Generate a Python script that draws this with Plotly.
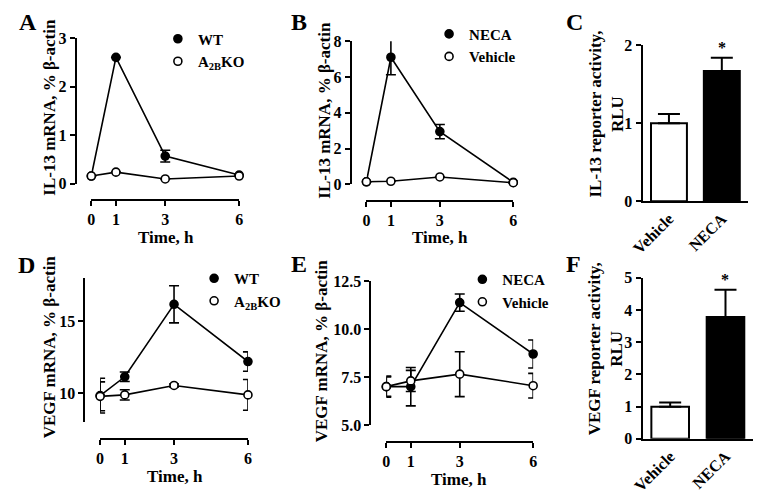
import plotly.graph_objects as go

W, H = 764, 500

# ---- data ----
time_h = [0, 1, 3, 6]

# A: IL-13 mRNA, WT vs A2BKO
a_wt = [0.16, 2.6, 0.57, 0.18]
a_wt_err = [0, 0, 0.12, 0]
a_ko = [0.16, 0.24, 0.1, 0.16]
a_ko_err = [0, 0, 0, 0]

# B: IL-13 mRNA, NECA vs Vehicle
b_neca = [0.15, 7.1, 2.95, 0.12]
b_neca_err = [0, 0.98, 0.4, 0]
b_veh = [0.15, 0.18, 0.42, 0.1]
b_veh_err = [0, 0, 0, 0]

# C: IL-13 reporter activity
bar_groups = ["Vehicle", "NECA"]
c_vals = [1.0, 1.67]
c_err = [0.12, 0.17]

# D: VEGF mRNA, WT vs A2BKO
d_wt = [9.85, 11.15, 16.15, 12.2]
d_wt_err = [1.2, 0.33, 1.28, 0.67]
d_ko = [9.8, 9.9, 10.55, 9.9]
d_ko_err = [1.0, 0.35, 0.1, 1.06]

# E: VEGF mRNA, NECA vs Vehicle
e_neca = [7.0, 7.0, 11.38, 8.7]
e_neca_err = [0.55, 1.0, 0.45, 0.73]
e_veh = [7.0, 7.3, 7.65, 7.05]
e_veh_err = [0.5, 0.55, 1.17, 0.64]

# F: VEGF reporter activity
f_vals = [1.0, 3.78]
f_err = [0.13, 0.85]

FONT = "Liberation Serif, Times New Roman, serif"


def fx(p):
    return p / W


def fy(p):
    return 1 - p / H


def line_trace(y, err, filled, xa, ya):
    return go.Scatter(
        x=time_h, y=y, xaxis=xa, yaxis=ya, mode="lines+markers",
        line=dict(color="black", width=1.6),
        marker=dict(symbol="circle", size=8, color="black" if filled else "white",
                    line=dict(color="black", width=1.6)),
        error_y=dict(type="data", array=err, color="black", thickness=1.6, width=5),
        showlegend=False, cliponaxis=False)


def legend_trace(name, filled, legend, xa, ya):
    return go.Scatter(
        x=[None], y=[None], xaxis=xa, yaxis=ya, mode="markers", name=name, legend=legend,
        marker=dict(symbol="circle", size=8, color="black" if filled else "white",
                    line=dict(color="black", width=1.6)))


def bar_trace(vals, err, xa, ya):
    return go.Bar(
        x=bar_groups, y=vals, xaxis=xa, yaxis=ya, width=0.68,
        marker=dict(color=["white", "black"], line=dict(color="black", width=2)),
        error_y=dict(type="data", array=err, arrayminus=[0, 0], symmetric=False,
                     color="black", thickness=2, width=11),
        showlegend=False)


fig = go.Figure()
fig.add_trace(line_trace(a_wt, a_wt_err, True, "x", "y"))
fig.add_trace(line_trace(a_ko, a_ko_err, False, "x", "y"))
fig.add_trace(legend_trace("WT", True, "legend", "x", "y"))
fig.add_trace(legend_trace("A<sub>2B</sub>KO", False, "legend", "x", "y"))

fig.add_trace(line_trace(b_neca, b_neca_err, True, "x2", "y2"))
fig.add_trace(line_trace(b_veh, b_veh_err, False, "x2", "y2"))
fig.add_trace(legend_trace("NECA", True, "legend2", "x2", "y2"))
fig.add_trace(legend_trace("Vehicle", False, "legend2", "x2", "y2"))

fig.add_trace(bar_trace(c_vals, c_err, "x3", "y3"))

fig.add_trace(line_trace(d_wt, d_wt_err, True, "x4", "y4"))
fig.add_trace(line_trace(d_ko, d_ko_err, False, "x4", "y4"))
fig.add_trace(legend_trace("WT", True, "legend3", "x4", "y4"))
fig.add_trace(legend_trace("A<sub>2B</sub>KO", False, "legend3", "x4", "y4"))

fig.add_trace(line_trace(e_neca, e_neca_err, True, "x5", "y5"))
fig.add_trace(line_trace(e_veh, e_veh_err, False, "x5", "y5"))
fig.add_trace(legend_trace("NECA", True, "legend4", "x5", "y5"))
fig.add_trace(legend_trace("Vehicle", False, "legend4", "x5", "y5"))

fig.add_trace(bar_trace(f_vals, f_err, "x6", "y6"))

axis_common = dict(showline=True, linecolor="black", linewidth=2, ticks="outside",
                   ticklen=5, tickwidth=2, tickcolor="black", showgrid=False,
                   zeroline=False, tickfont=dict(size=16))


def time_axis(x0, x1, line_y):
    return dict(axis_common, domain=[fx(x0), fx(x1)], range=[0, 6],
                tickvals=time_h, anchor="free", position=fy(line_y))


def val_axis(y0, y1, rng, ticks, line_x=None, fmt=None):
    d = dict(axis_common, domain=[fy(y0), fy(y1)], range=rng, tickvals=ticks)
    if line_x is not None:
        d.update(anchor="free", position=fx(line_x))
    if fmt:
        d["tickformat"] = fmt
    return d


def cat_axis(x0, x1):
    return dict(showline=True, linecolor="black", linewidth=2, ticks="",
                showgrid=False, zeroline=False, domain=[fx(x0), fx(x1)],
                range=[-0.5, 1.5], tickangle=-45, tickfont=dict(size=16))


fig.update_layout(
    width=W, height=H, margin=dict(l=0, r=0, t=0, b=0),
    paper_bgcolor="white", plot_bgcolor="white",
    font=dict(family=FONT, size=16, color="black", weight="bold"),
    xaxis=time_axis(81, 232, 199),
    yaxis=val_axis(182, 31, [0, 3], [0, 1, 2, 3], line_x=65),
    xaxis2=time_axis(362, 512, 199.3),
    yaxis2=val_axis(182.7, 34.3, [0, 8], [0, 2, 4, 6, 8], line_x=346),
    xaxis3=dict(cat_axis(644, 752), anchor="y3"),
    yaxis3=dict(val_axis(200, 38.7, [0, 2], [0, 1, 2]), anchor="x3"),
    xaxis4=time_axis(90, 241, 445.7),
    yaxis4=val_axis(429, 279, [8, 18], [10, 15], line_x=74),
    xaxis5=time_axis(382.3, 532.3, 449),
    yaxis5=val_axis(431.7, 282.7, [5, 12.5], [5, 7.5, 10, 12.5], line_x=366, fmt=".1f"),
    xaxis6=dict(cat_axis(644, 757), anchor="y6"),
    yaxis6=dict(val_axis(446, 279.3, [0, 5], [0, 1, 2, 3, 4, 5]), anchor="x6"),
)

leg = dict(bgcolor="rgba(0,0,0,0)", font=dict(size=15), itemwidth=30,
           xanchor="left", yanchor="top", tracegroupgap=0, borderwidth=0)
fig.update_layout(
    legend=dict(leg, x=fx(149), y=fy(15)),
    legend2=dict(leg, x=fx(426), y=fy(10)),
    legend3=dict(leg, x=fx(186), y=fy(263)),
    legend4=dict(leg, x=fx(460), y=fy(264)),
)

annots = []
# panel letters
for letter, px_, py_ in [("A", 16, 15), ("B", 293, 15), ("C", 575, 15),
                         ("D", 15, 266), ("E", 293, 265), ("F", 573, 265)]:
    annots.append(dict(text=letter, x=fx(px_), y=fy(py_), font=dict(size=24)))
# y-axis titles
for txt, px_, py_ in [("IL-13 mRNA, % β-actin", 38, 103),
                      ("IL-13 mRNA, % β-actin", 319, 106),
                      ("IL-13 reporter activity,<br>RLU", 607, 110),
                      ("VEGF mRNA, % β-actin", 38, 351),
                      ("VEGF mRNA, % β-actin", 317, 355),
                      ("VEGF reporter activity,<br>RLU", 607, 353)]:
    annots.append(dict(text=txt, x=fx(px_), y=fy(py_), textangle=-90, font=dict(size=17)))
# x-axis titles
for px_, py_ in [(157, 238), (437, 238), (166, 485), (457, 488)]:
    annots.append(dict(text="Time, h", x=fx(px_), y=fy(py_), font=dict(size=17)))
for a in annots:
    a.update(xref="paper", yref="paper", xanchor="center", yanchor="middle", showarrow=False)
# significance stars
annots.append(dict(text="*", x="NECA", y=c_vals[1] + c_err[1], xref="x3", yref="y3",
                   yanchor="bottom", showarrow=False, font=dict(size=16)))
annots.append(dict(text="*", x="NECA", y=f_vals[1] + f_err[1], xref="x6", yref="y6",
                   yanchor="bottom", showarrow=False, font=dict(size=16)))
fig.update_layout(annotations=annots)

fig.write_html("out.html", config={"displayModeBar": False},
               post_script="document.body.style.margin='0';")
